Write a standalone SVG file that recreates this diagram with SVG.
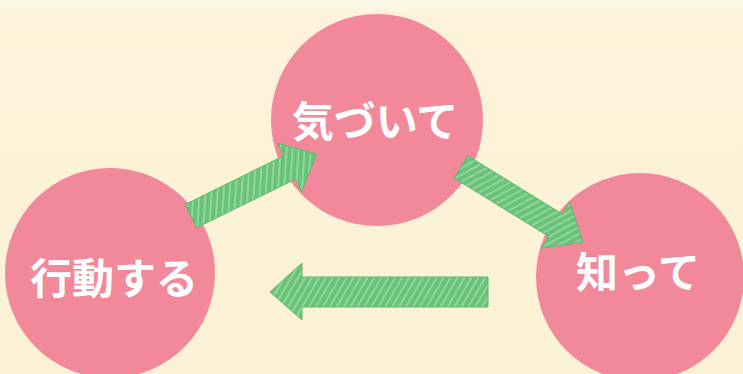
<svg xmlns="http://www.w3.org/2000/svg" width="743" height="374" viewBox="0 0 743 374">
  <defs>
    <linearGradient id="bg" x1="0" y1="0" x2="0" y2="1">
      <stop offset="0" stop-color="#fdf8ea"/>
      <stop offset="0.04" stop-color="#fcf3da"/>
      <stop offset="1" stop-color="#fbf1d6"/>
    </linearGradient>
    <pattern id="hatch" patternUnits="userSpaceOnUse" width="6" height="6" patternTransform="rotate(30)">
      <rect width="6" height="6" fill="#69c47a"/>
      <rect x="0" y="0" width="2" height="6" fill="#92d59f"/>
    </pattern>
  </defs>
  <style>
    .node { fill: #f1899b; }
    .label { font-family: "Noto Sans CJK JP", "Noto Sans", sans-serif; font-weight: 700; font-size: 42px; fill: #ffffff; text-anchor: middle; }
    .arrow { fill: url(#hatch); stroke: #5cb96d; stroke-width: 1; stroke-linejoin: round; }
  </style>
  <rect width="743" height="374" fill="url(#bg)"/>

  <g id="node-kizuite">
    <circle class="node" cx="377" cy="120" r="106"/>
    <text class="label" x="375" y="137">気づいて</text>
  </g>
  <g id="node-kodo">
    <circle class="node" cx="110" cy="273" r="105"/>
    <text class="label" x="114" y="294">行動する</text>
  </g>
  <g id="node-shitte">
    <circle class="node" cx="640" cy="277" r="104"/>
    <text class="label" x="638" y="288">知って</text>
  </g>

  <g id="connectors">
    <polygon class="arrow" transform="translate(191,216) rotate(-26.2)" points="0,-13 110,-13 110,-27 140,0 110,27 110,13 0,13"/>
    <polygon class="arrow" transform="translate(461,167) rotate(31.6)" points="0,-13 111,-13 111,-27 143,0 111,27 111,13 0,13"/>
    <polygon class="arrow" points="488,277 302,277 302,263 270,292 302,320 302,307 488,307"/>
  </g>
</svg>
